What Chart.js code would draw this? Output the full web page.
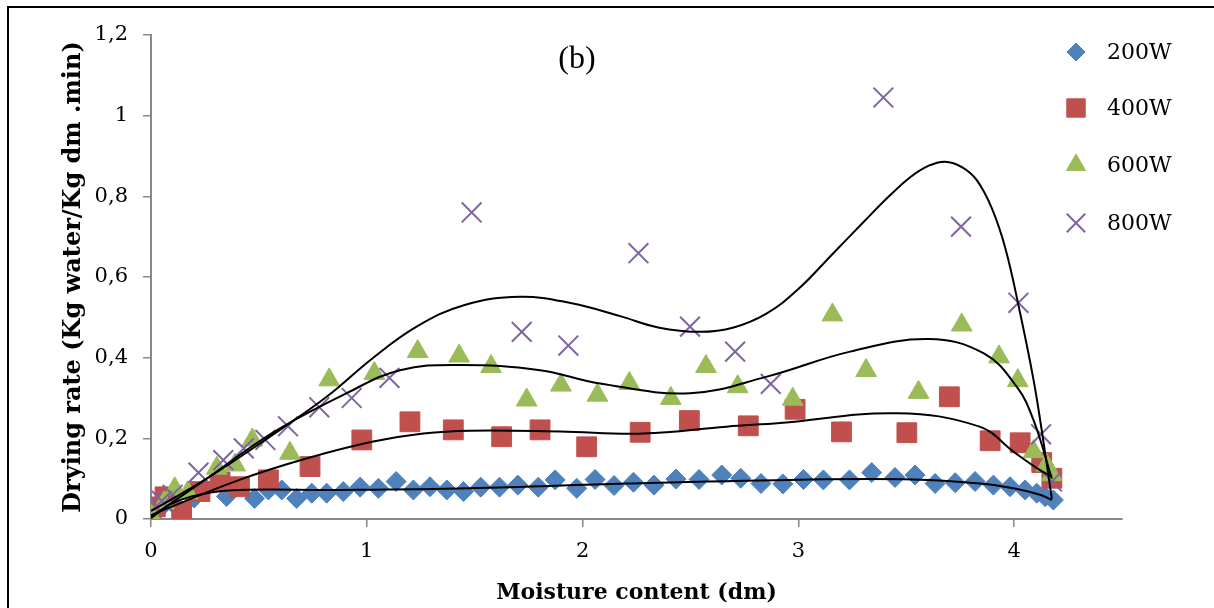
<!DOCTYPE html>
<html>
<head>
<meta charset="utf-8">
<title>Drying rate vs moisture content</title>
<script src="https://cdn.jsdelivr.net/npm/chart.js@4/dist/chart.umd.min.js"></script>
<style>
  html, body { margin: 0; padding: 0; background: #fff; overflow: hidden; }
  #frame { position: absolute; left: 7px; top: 6px; width: 1400px; height: 800px; border: 2px solid #000; }
  #chart { position: absolute; left: 0; top: 0; }
</style>
</head>
<body>
<div id="frame"></div>
<canvas id="chart" width="1214" height="608"></canvas>
<script>
// measured points, moisture content (dm) vs drying rate
const x200 = [0.00, 0.04, 0.10, 0.20, 0.35, 0.48, 0.544, 0.606, 0.675, 0.745, 0.814, 0.891, 0.969, 1.054, 1.136, 1.216, 1.293, 1.371, 1.448, 1.528, 1.615, 1.70, 1.795, 1.873, 1.973, 2.058, 2.146, 2.236, 2.331, 2.433, 2.54, 2.645, 2.733, 2.827, 2.928, 3.024, 3.116, 3.237, 3.34, 3.448, 3.541, 3.634, 3.727, 3.819, 3.904, 3.981, 4.051, 4.105, 4.144, 4.182];
const y200 = [0.005, 0.025, 0.04, 0.052, 0.056, 0.051, 0.072, 0.072, 0.051, 0.064, 0.064, 0.068, 0.079, 0.076, 0.093, 0.072, 0.08, 0.072, 0.068, 0.079, 0.079, 0.084, 0.079, 0.097, 0.076, 0.098, 0.083, 0.091, 0.084, 0.099, 0.098, 0.109, 0.101, 0.088, 0.087, 0.098, 0.097, 0.097, 0.115, 0.103, 0.109, 0.088, 0.09, 0.093, 0.084, 0.08, 0.072, 0.064, 0.055, 0.047];

const x400 = [0.02, 0.065, 0.142, 0.227, 0.32, 0.41, 0.544, 0.737, 0.977, 1.20, 1.401, 1.625, 1.803, 2.019, 2.267, 2.495, 2.768, 2.985, 3.20, 3.503, 3.70, 3.889, 4.028, 4.128, 4.175];
const y400 = [0.03, 0.055, 0.018, 0.068, 0.092, 0.08, 0.097, 0.13, 0.196, 0.241, 0.221, 0.204, 0.221, 0.179, 0.215, 0.244, 0.231, 0.272, 0.216, 0.214, 0.303, 0.194, 0.189, 0.14, 0.101];

const x600 = [0.003, 0.06, 0.11, 0.17, 0.305, 0.39, 0.47, 0.644, 0.826, 1.035, 1.236, 1.428, 1.576, 1.741, 1.90, 2.069, 2.217, 2.409, 2.572, 2.719, 2.974, 3.158, 3.314, 3.557, 3.757, 3.93, 4.017, 4.09, 4.15, 4.175];
const y600 = [0.006, 0.04, 0.075, 0.065, 0.126, 0.134, 0.196, 0.163, 0.345, 0.361, 0.415, 0.404, 0.378, 0.295, 0.332, 0.307, 0.336, 0.299, 0.378, 0.328, 0.297, 0.506, 0.368, 0.314, 0.481, 0.402, 0.343, 0.167, 0.134, 0.11];

const x800 = [0.003, 0.05, 0.10, 0.22, 0.335, 0.43, 0.53, 0.635, 0.78, 0.93, 1.105, 1.486, 1.718, 1.934, 2.259, 2.498, 2.707, 2.872, 3.394, 3.754, 4.02, 4.125, 4.175];
const y800 = [0.043, 0.045, 0.06, 0.115, 0.146, 0.175, 0.196, 0.23, 0.277, 0.30, 0.35, 0.76, 0.464, 0.43, 0.659, 0.477, 0.415, 0.335, 1.045, 0.725, 0.536, 0.21, 0.093];

// polynomial trend curves
const t200x = [0.0, 0.10, 0.258, 0.41, 0.876, 1.479, 2.205, 2.962, 3.533, 3.842, 3.997, 4.12, 4.175];
const t200y = [0.002, 0.039, 0.064, 0.072, 0.072, 0.076, 0.088, 0.097, 0.098, 0.088, 0.076, 0.06, 0.047];

const t400x = [0.0, 0.41, 0.72, 1.03, 1.262, 1.479, 1.896, 2.282, 2.668, 2.915, 3.456, 3.84, 3.997, 4.12, 4.175];
const t400y = [0.01, 0.097, 0.15, 0.192, 0.212, 0.219, 0.217, 0.212, 0.229, 0.238, 0.262, 0.229, 0.167, 0.121, 0.105];

const t600x = [0.0, 0.258, 0.567, 0.907, 1.154, 1.432, 1.803, 2.081, 2.498, 2.854, 3.24, 3.603, 3.858, 4.012, 4.09, 4.175];
const t600y = [0.005, 0.10, 0.215, 0.312, 0.369, 0.382, 0.369, 0.336, 0.312, 0.353, 0.415, 0.446, 0.411, 0.328, 0.245, 0.10];

const t800x = [0.0, 0.258, 0.567, 0.814, 1.03, 1.231, 1.45, 1.71, 1.95, 2.174, 2.35, 2.545, 2.7, 2.854, 3.0, 3.162, 3.30, 3.42, 3.52, 3.60, 3.68, 3.76, 3.827, 3.897, 3.96, 4.028, 4.09, 4.128, 4.175];
const t800y = [0.02, 0.10, 0.21, 0.303, 0.40, 0.477, 0.53, 0.551, 0.535, 0.503, 0.475, 0.464, 0.475, 0.51, 0.57, 0.659, 0.735, 0.80, 0.848, 0.875, 0.886, 0.872, 0.84, 0.77, 0.67, 0.51, 0.345, 0.22, 0.05];

const seriesNames = ['200W', '400W', '600W', '800W'];
const yTicks = [0, 0.2, 0.4, 0.6, 0.8, 1, 1.2];
const xTicks = [0, 1, 2, 3, 4];

const pts = (xs, ys) => xs.map((x, i) => ({ x: x, y: ys[i] }));

const markerStyles = [
  { pointStyle: 'rectRot', pointRadius: 10, color: '#4F81BD', fill: true },
  { pointStyle: 'rect', pointRadius: 14, color: '#C0504D', fill: true },
  { pointStyle: 'triangle', pointRadius: 12, color: '#9BBB59', fill: true },
  { pointStyle: 'crossRot', pointRadius: 14, color: '#8064A2', fill: false }
];

const measured = [[x200, y200], [x400, y400], [x600, y600], [x800, y800]];
const trends = [[t200x, t200y], [t400x, t400y], [t600x, t600y], [t800x, t800y]];

const datasets = [];
measured.forEach((m, i) => {
  const st = markerStyles[i];
  datasets.push({
    label: seriesNames[i],
    data: pts(m[0], m[1]),
    showLine: false,
    pointStyle: st.pointStyle,
    pointRadius: st.pointRadius,
    pointHoverRadius: st.pointRadius,
    backgroundColor: st.fill ? st.color : 'rgba(0,0,0,0)',
    borderColor: st.color,
    borderWidth: st.fill ? 1 : 2,
    order: 4 - i
  });
});
trends.forEach((t, i) => {
  datasets.push({
    label: seriesNames[i] + ' trend',
    data: pts(t[0], t[1]),
    showLine: true,
    pointRadius: 0,
    borderColor: '#000',
    borderWidth: 2,
    tension: 0.4,
    fill: false,
    order: 0
  });
});

const fmtComma = v => String(Number(v.toFixed(1))).replace('.', ',');

// "(b)" panel tag and the series key sitting inside the plot
const overlay = {
  id: 'overlay',
  afterDraw(chart) {
    const ctx = chart.ctx;
    ctx.save();
    ctx.fillStyle = '#000';
    ctx.font = '32px "Liberation Serif"';
    ctx.textAlign = 'center';
    ctx.textBaseline = 'middle';
    ctx.fillText('(b)', 577, 60);

    const keyY = [52, 108, 165, 223];
    markerStyles.forEach((st, i) => {
      ctx.fillStyle = st.color;
      ctx.strokeStyle = st.color;
      ctx.lineWidth = st.fill ? 1 : 2;
      Chart.helpers.drawPoint(ctx, {
        pointStyle: st.pointStyle,
        radius: st.pointRadius - 1,
        rotation: 0,
        borderWidth: ctx.lineWidth
      }, 1076, keyY[i]);
      ctx.fillStyle = '#000';
      ctx.font = '22px "DejaVu Serif"';
      ctx.textAlign = 'left';
      ctx.textBaseline = 'middle';
      ctx.fillText(seriesNames[i], 1107, keyY[i] + 1);
    });
    ctx.restore();
  }
};

new Chart(document.getElementById('chart'), {
  type: 'scatter',
  data: { datasets: datasets },
  plugins: [overlay],
  options: {
    responsive: false,
    animation: false,
    devicePixelRatio: 1,
    layout: { padding: { left: 57, top: 35, right: 92, bottom: 2 } },
    plugins: { legend: { display: false }, tooltip: { enabled: false } },
    scales: {
      x: {
        type: 'linear',
        min: 0,
        max: 4.5,
        afterFit: s => { s.height = 87; },
        afterBuildTicks: s => { s.ticks = xTicks.map(v => ({ value: v })); },
        ticks: { color: '#000', padding: 12, font: { family: 'DejaVu Serif', size: 21 }, callback: v => fmtComma(v) },
        grid: { drawOnChartArea: false, drawTicks: true, tickLength: 8, color: '#888', lineWidth: 1.5 },
        border: { display: true, color: '#888', width: 2 },
        title: {
          display: true,
          text: 'Moisture content (dm)',
          color: '#000',
          padding: { top: 0, bottom: 0 },
          font: { family: 'DejaVu Serif', size: 22, weight: 'bold' }
        }
      },
      y: {
        min: 0,
        max: 1.2,
        afterFit: s => { s.width = 94; },
        afterBuildTicks: s => { s.ticks = yTicks.map(v => ({ value: v })); },
        ticks: { color: '#000', padding: 15, font: { family: 'DejaVu Serif', size: 21 }, callback: v => fmtComma(v) },
        grid: { drawOnChartArea: false, drawTicks: true, tickLength: 8, color: '#888', lineWidth: 1.5 },
        border: { display: true, color: '#888', width: 2 },
        title: {
          display: true,
          text: 'Drying rate (Kg water/Kg dm .min)',
          color: '#000',
          padding: { top: 2, bottom: 0 },
          font: { family: 'DejaVu Serif', size: 24, weight: 'bold' }
        }
      }
    }
  }
});
</script>
</body>
</html>
